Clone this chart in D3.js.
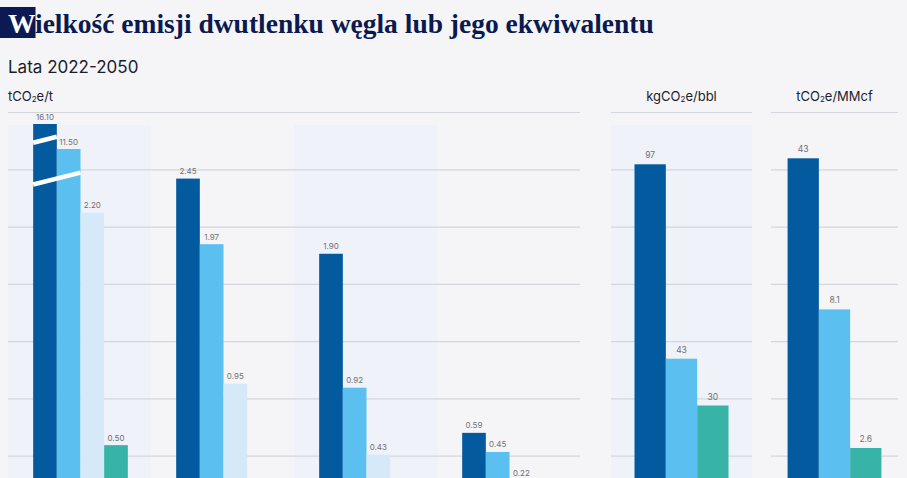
<!DOCTYPE html>
<html>
<head>
<meta charset="utf-8">
<script src="https://cdn.jsdelivr.net/npm/d3@7"></script>
<style>
  html, body { margin: 0; padding: 0; background: #f5f5f8; }
  svg { display: block; }
</style>
</head>
<body>
<svg id="chart" width="907" height="478"></svg>
<script>
// ---------- DATA ----------
const title = "Wielkość emisji dwutlenku węgla lub jego ekwiwalentu";
const subtitle = "Lata 2022-2050";
const unitLeft = ["tCO", "2", "e/t"];
const unitOil = ["kgCO", "2", "e/bbl"];
const unitGas = ["tCO", "2", "e/MMcf"];

const series = ["Seria 1", "Seria 2", "Seria 3", "Seria 4"];
const categoriesLeft = ["Kategoria 1", "Kategoria 2", "Kategoria 3", "Kategoria 4"];
const leftS1 = [16.10, 2.45, 1.90, 0.59];
const leftS2 = [11.50, 1.97, 0.92, 0.45];
const leftS3 = [2.20, 0.95, 0.43, 0.22];
const leftS4 = [0.50, null, null, null];

const oilValues = [97, 43, null, 30];
const gasValues = [43, 8.1, null, 2.6];
const oilLabels = ["97", "43", "", "30"];
const gasLabels = ["43", "8.1", "", "2.6"];

const colors = ["#035a9f", "#5bbfef", "#d6e9f9", "#37b3a7"];
const gridCount = 7;

// ---------- SETUP ----------
(function () {
const svg = d3.select("#chart");
const W = 907, H = 478;
svg.append("rect").attr("width", W).attr("height", H).attr("fill", "#f5f5f8");

const plotTop = 112.5, base = 513.5;
const sans = "Inter, 'Noto Sans', sans-serif";

// Title
const t = svg.append("text")
  .attr("x", 8).attr("y", 33)
  .attr("font-family", "'Liberation Serif', 'DejaVu Serif', serif")
  .attr("font-weight", "bold").attr("font-size", 27.5)
  .attr("fill", "#0b1a4e");
t.append("tspan").attr("fill", "#ffffff").text(title.slice(0, 1));
t.append("tspan").text(title.slice(1));
const wExt = t.node().getExtentOfChar(0);
svg.insert("rect", "text")
  .attr("x", 0).attr("y", 7).attr("width", wExt.x + wExt.width + 0.5).attr("height", 31)
  .attr("fill", "#0b1a52");

svg.append("text").attr("x", 8).attr("y", 72.5)
  .attr("font-family", sans).attr("font-size", 17).attr("fill", "#1c1c2c")
  .text(subtitle);

function unitText(parts, x, anchor) {
  const u = svg.append("text").attr("x", x).attr("y", 100.5)
    .attr("font-family", sans).attr("font-size", 13).attr("fill", "#1c1c2c")
    .attr("text-anchor", anchor);
  u.append("tspan").text(parts[0]);
  u.append("tspan").attr("font-size", 8).attr("dy", 1).text(parts[1]);
  u.append("tspan").attr("dy", -1).text(parts[2]);
}
unitText(unitLeft, 8, "start");

// Grid scale (shared)
const gridY = d3.scaleLinear().domain([0, gridCount]).range([base, plotTop]);
const gridVals = d3.range(1, gridCount + 1);

// ---------- LEFT PANEL ----------
const leftX0 = d3.scaleBand().domain(categoriesLeft).range([9, 581])
  .paddingInner(0.338).paddingOuter(0.169);
const leftCols = d3.scaleBand().domain(categoriesLeft).range([8, 580]);
const leftX1 = d3.scaleBand().domain(series).range([0, leftX0.bandwidth()]);
const leftY = d3.scaleLinear()
  .domain([0, 2.5, 11.5, 16.1])
  .range([base, base - 2.5 * 136.7, 149, 124]);

// tint columns
svg.append("g").selectAll("rect")
  .data(categoriesLeft.filter((d, i) => i % 2 === 0))
  .join("rect")
  .attr("x", d => leftCols(d)).attr("width", leftCols.bandwidth())
  .attr("y", 125).attr("height", H - 125)
  .attr("fill", "#eff2f8");

function grid(x0, x1) {
  svg.append("g").selectAll("line").data(gridVals).join("line")
    .attr("x1", x0).attr("x2", x1)
    .attr("y1", d => gridY(d)).attr("y2", d => gridY(d))
    .attr("stroke", "#d3d6dd").attr("stroke-width", 1.2);
}

const leftData = [];
categoriesLeft.forEach((c, i) => {
  [leftS1, leftS2, leftS3, leftS4].forEach((arr, j) => {
    if (arr[i] != null) leftData.push({ cat: c, s: series[j], v: arr[i], j });
  });
});

// ---------- RIGHT PANELS ----------
const oilSeries = series.filter((s, j) => oilValues[j] != null);
const gasSeries = series.filter((s, j) => gasValues[j] != null);
const oilX = d3.scaleBand().domain(oilSeries).range([611, 752]).paddingOuter(0.75);
const gasX = d3.scaleBand().domain(gasSeries).range([771, 898]).paddingOuter(0.53);
const oilY = d3.scaleLinear().domain([0, 100]).range([base, base - 360]);
const gasY = d3.scaleLinear().domain([0, 10, 43]).range([base, base - 252, 158.3]);

// oil panel tint
svg.append("rect").attr("x", 611).attr("width", 752 - 611)
  .attr("y", 125).attr("height", H - 125).attr("fill", "#eff2f8");

grid(8, 580);
grid(611, 752);
grid(771, 898);

unitText(unitOil, (611 + 752) / 2, "middle");
unitText(unitGas, (771 + 898) / 2, "middle");

// left bars
svg.append("g").selectAll("rect").data(leftData).join("rect")
  .attr("x", d => leftX0(d.cat) + leftX1(d.s))
  .attr("width", leftX1.bandwidth())
  .attr("y", d => leftY(d.v))
  .attr("height", d => base - leftY(d.v))
  .attr("fill", d => colors[d.j]);

// break marks on first group
const breaks = [{ v: 13.2, n: 1 }, { v: 2.45, n: 2 }];
const g0 = categoriesLeft[0];
svg.append("g").selectAll("line").data(breaks).join("line")
  .attr("x1", leftX0(g0))
  .attr("x2", d => leftX0(g0) + leftX1.bandwidth() * d.n)
  .attr("y1", d => leftY(d.v) + leftX1.bandwidth() * d.n * 0.125)
  .attr("y2", d => leftY(d.v) - leftX1.bandwidth() * d.n * 0.125)
  .attr("stroke", "#ffffff").attr("stroke-width", 4.5);

svg.append("g").selectAll("text").data(leftData).join("text")
  .attr("x", d => leftX0(d.cat) + leftX1(d.s) + leftX1.bandwidth() / 2)
  .attr("y", d => Math.min(leftY(d.v) - 4.5, H - 2))
  .attr("text-anchor", "middle")
  .attr("font-family", sans).attr("font-size", 8).attr("fill", "#707070")
  .text(d => d3.format(".2f")(d.v));

function rightBars(values, labels, xs, ys) {
  const data = values.map((v, j) => ({ v, j, s: series[j], l: labels[j] })).filter(d => d.v != null);
  svg.append("g").selectAll("rect").data(data).join("rect")
    .attr("x", d => xs(d.s)).attr("width", xs.bandwidth())
    .attr("y", d => ys(d.v)).attr("height", d => base - ys(d.v))
    .attr("fill", d => colors[d.j]);
  svg.append("g").selectAll("text").data(data).join("text")
    .attr("x", d => xs(d.s) + xs.bandwidth() / 2)
    .attr("y", d => ys(d.v) - 6)
    .attr("text-anchor", "middle")
    .attr("font-family", sans).attr("font-size", 8.5).attr("fill", "#707070")
    .text(d => d.l);
}
rightBars(oilValues, oilLabels, oilX, oilY);
rightBars(gasValues, gasLabels, gasX, gasY);
})();
</script>
</body>
</html>
